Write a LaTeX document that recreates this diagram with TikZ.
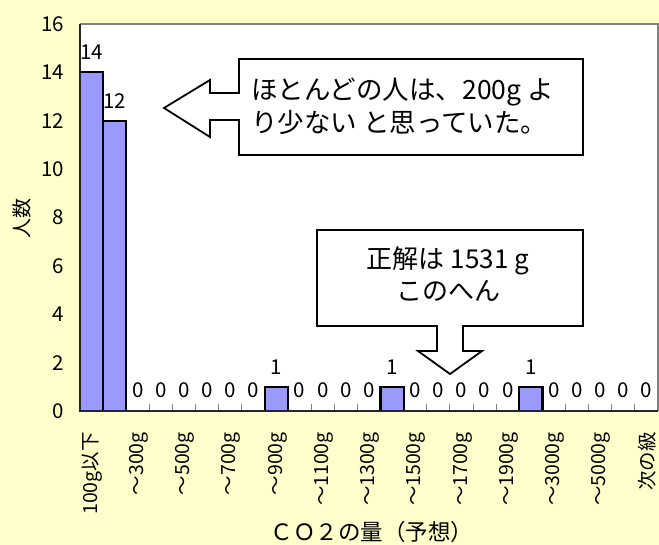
\documentclass[tikz,border=0pt]{standalone}
\usepackage{fontspec}
\setmainfont{Noto Sans CJK JP}
\definecolor{bgyellow}{HTML}{FFFFCC}
\definecolor{barblue}{HTML}{9999FF}
\definecolor{axgray}{HTML}{808080}
\begin{document}
\begin{tikzpicture}[x=1pt,y=-1pt,
  bar/.style={draw=black,line width=2.2pt,fill=barblue},
  vallabel/.style={font=\fontsize{20.5}{22}\selectfont,inner sep=0pt},
  ylab/.style={font=\fontsize{20.5}{22}\selectfont,anchor=east,inner sep=0pt},
  xlab/.style={font=\fontsize{19.5}{21}\selectfont,anchor=east,rotate=90,inner sep=0pt},
  callout/.style={draw=black,line width=1.8pt,fill=white,line join=miter},
  callouttext/.style={font=\fontsize{26.5}{33}\selectfont,inner sep=0pt},
  tickmark/.style={draw=axgray,line width=1pt}]
\useasboundingbox (0,0) rectangle (659,545);
\fill[bgyellow] (0,0) rectangle (659,545);
% plot area
\fill[white] (80,24) rectangle (658,411);
\draw[axgray,line width=2pt] (80,24) -- (658,24) -- (658,411);
% y ticks and labels
\foreach \v in {0,2,...,16}{
  \pgfmathsetmacro{\yy}{411-\v*24.1875}
  \draw[tickmark] (80,\yy) -- (87,\yy);
  \node[ylab] (yl\v) at (64,\yy) {\v};
}
% x ticks
\foreach \k in {1,...,24}{
  \pgfmathsetmacro{\xx}{80+\k*23.12}
  \draw[tickmark] (\xx,411) -- (\xx,404);
}
% bars
\foreach \k/\v in {1/14,2/12,9/1,14/1,20/1}{
  \pgfmathsetmacro{\xl}{80+(\k-1)*23.12}
  \pgfmathsetmacro{\xr}{80+\k*23.12}
  \pgfmathsetmacro{\yt}{411-\v*24.1875}
  \draw[bar] (\xl,411) rectangle (\xr,\yt);
  \node[vallabel] (vb\k) at ({(\xl+\xr)/2},\yt-20) {\v};
}
% zero labels
\foreach \k in {3,4,5,6,7,8,10,11,12,13,15,16,17,18,19,21,22,23,24,25}{
  \pgfmathsetmacro{\xc}{80+(\k-0.5)*23.12}
  \node[vallabel] (vz\k) at (\xc,390) {0};
}
% axes
\draw[black!85,line width=1.6pt] (80,24) -- (80,411) -- (658,411);
% x labels
\foreach \k/\t in {1/100g以下,3/～300g,5/～500g,7/～700g,9/～900g,11/～1100g,13/～1300g,15/～1500g,17/～1700g,19/～1900g,21/～3000g,23/～5000g,25/次の級}{
  \pgfmathsetmacro{\xc}{80+(\k-0.5)*23.12+1}
  \node[xlab] (xl\k) at (\xc,432) {\t};
}
% axis titles
\node[font=\fontsize{20}{22}\selectfont,rotate=90,inner sep=0pt] (ytitle) at (22,219) {人数};
\node[font=\fontsize{22.5}{24}\selectfont,inner sep=0pt] (xtitle) at (372,532) {ＣＯ２の量（予想）};
% callout 1
\draw[callout] (239,59) -- (583,59) -- (583,155) -- (239,155) -- (239,120) -- (210,120) -- (210,137) -- (164,108) -- (210,80) -- (210,93) -- (239,93) -- cycle;
\node[callouttext,anchor=west,align=left] (c1) at (251,106.5) {ほとんどの人は、200g よ\\り少ない と思っていた。};
% callout 2
\draw[callout] (317,230) -- (583,230) -- (583,326) -- (463,326) -- (463,351) -- (482,351) -- (450,374) -- (418,351) -- (437,351) -- (437,326) -- (317,326) -- cycle;
\node[callouttext,align=center,font=\fontsize{26}{32}\selectfont] (c2) at (448,274) {正解は 1531 g\\このへん};
\end{tikzpicture}
\end{document}
